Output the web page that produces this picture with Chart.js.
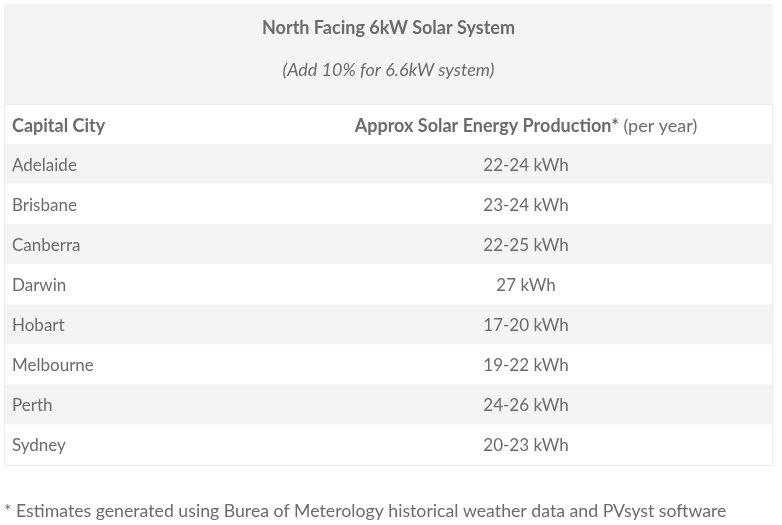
<!DOCTYPE html>
<html>
<head>
<meta charset="utf-8">
<script src="https://cdn.jsdelivr.net/npm/chart.js@4/dist/chart.umd.min.js"></script>
<style>
  html, body { margin: 0; padding: 0; background: #fff; }
  #wrap { width: 782px; height: 525px; position: relative; }
</style>
</head>
<body>
<div id="wrap"><canvas id="table"></canvas></div>
<script>
const title = 'North Facing 6kW Solar System';
const subtitle = '(Add 10% for 6.6kW system)';
const columnHeads = ['Capital City', 'Approx Solar Energy Production*', ' (per year)'];
const cities = ['Adelaide', 'Brisbane', 'Canberra', 'Darwin', 'Hobart', 'Melbourne', 'Perth', 'Sydney'];
const lowKwh = [22, 23, 22, 27, 17, 19, 24, 20];
const highKwh = [24, 24, 25, 27, 20, 22, 26, 23];
const footnote = '* Estimates generated using Burea of Meterology historical weather data and PVsyst software';

const colors = {
    text: '#6b6b6b',
    band: '#f4f4f4',
    white: '#ffffff',
    border: '#ececec',
};
const font = 'Lato, "Noto Sans", sans-serif';

function rangeLabel(i) {
    return lowKwh[i] === highKwh[i] ? `${lowKwh[i]} kWh` : `${lowKwh[i]}-${highKwh[i]} kWh`;
}

const tablePlugin = {
    id: 'tableText',
    beforeDatasetsDraw(chart) {
        const { ctx, chartArea } = chart;
        const left = chartArea.left, right = chartArea.right;
        ctx.save();
        // caption block
        ctx.fillStyle = colors.band;
        ctx.fillRect(left, 4, right - left, 100);
        // header row
        ctx.fillStyle = colors.white;
        ctx.fillRect(left, 104, right - left, chartArea.top - 104);
        ctx.restore();
    },
    afterDatasetsDraw(chart) {
        const { ctx, chartArea, scales } = chart;
        const left = chartArea.left, right = chartArea.right;
        const colCenter = 526;
        ctx.save();
        ctx.strokeStyle = colors.border;
        ctx.lineWidth = 1;
        ctx.strokeRect(left + 0.5, 104.5, right - left - 1, chartArea.bottom - 104);

        ctx.fillStyle = colors.text;
        ctx.textBaseline = 'middle';
        ctx.textAlign = 'center';
        ctx.font = `bold 18px ${font}`;
        ctx.fillText(title, (left + right) / 2, 28);
        ctx.font = `italic 18px ${font}`;
        ctx.fillText(subtitle, (left + right) / 2, 70);

        // column heads
        const headY = 126;
        ctx.textAlign = 'left';
        ctx.font = `bold 18px ${font}`;
        ctx.fillText(columnHeads[0], 12, headY);
        const w1 = ctx.measureText(columnHeads[1]).width;
        ctx.font = `18px ${font}`;
        const w2 = ctx.measureText(columnHeads[2]).width;
        const x0 = colCenter - (w1 + w2) / 2;
        ctx.font = `bold 18px ${font}`;
        ctx.fillText(columnHeads[1], x0, headY);
        ctx.font = `18px ${font}`;
        ctx.fillText(columnHeads[2], x0 + w1, headY);

        // rows
        ctx.font = `17px ${font}`;
        cities.forEach((city, i) => {
            const y = scales.y.getPixelForValue(i) + 1;
            ctx.textAlign = 'left';
            ctx.fillText(city, 12, y);
            ctx.textAlign = 'center';
            ctx.fillText(rangeLabel(i), colCenter, y);
        });

        ctx.textAlign = 'left';
        ctx.font = `17.7px ${font}`;
        ctx.fillText(footnote, 4, 511);
        ctx.restore();
    },
};

new Chart(document.getElementById('table'), {
    type: 'bar',
    data: {
        labels: cities,
        datasets: [{
            data: cities.map(() => 1),
            backgroundColor: cities.map((_, i) => (i % 2 === 0 ? colors.band : colors.white)),
            borderWidth: 0,
            barPercentage: 1,
            categoryPercentage: 1,
        }],
    },
    options: {
        indexAxis: 'y',
        responsive: true,
        maintainAspectRatio: false,
        animation: false,
        layout: { padding: { top: 144, left: 4, right: 9, bottom: 60 } },
        plugins: {
            legend: { display: false },
            tooltip: { enabled: false },
            title: { display: false },
        },
        scales: {
            x: { display: false, min: 0, max: 1 },
            y: { display: false },
        },
    },
    plugins: [tablePlugin],
});
</script>
</body>
</html>
